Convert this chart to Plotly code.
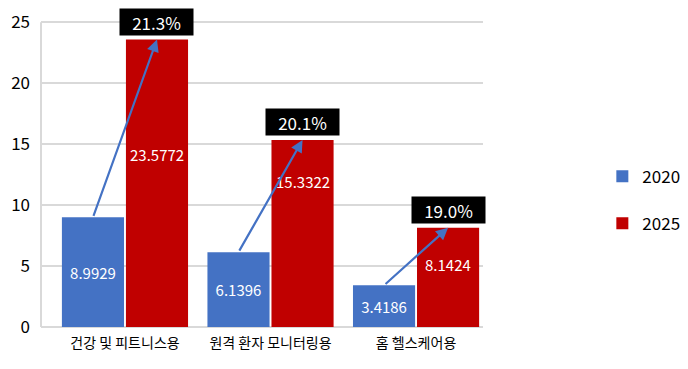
import plotly.graph_objects as go

categories = ["건강 및 피트니스용", "원격 환자 모니터링용", "홈 헬스케어용"]
series_names = ["2020", "2025"]
values_2020 = [8.9929, 6.1396, 3.4186]
values_2025 = [23.5772, 15.3322, 8.1424]
growth_labels = ["21.3%", "20.1%", "19.0%"]
y_ticks = [0, 5, 10, 15, 20, 25]

# layout-only details
red_label_frac = [0.60, 0.78, 0.63]
BLUE = "#4472C4"
RED = "#C00000"
FONT = "Noto Sans CJK KR"
off = 0.22

fig = go.Figure()
fig.add_trace(go.Bar(
    x=categories, y=values_2020, name=series_names[0], marker_color=BLUE,
    text=[f"{v:.4f}" for v in values_2020], textposition="inside",
    insidetextanchor="middle", textfont=dict(color="white", size=15, family=FONT),
    legendgroup="a", marker_line_width=0,
))
fig.add_trace(go.Bar(
    x=categories, y=values_2025, name=series_names[1], marker_color=RED,
    legendgroup="b", marker_line_width=0,
))

for i, (b, r, g, fr) in enumerate(zip(values_2020, values_2025, growth_labels, red_label_frac)):
    fig.add_annotation(x=i + off, y=r * fr, xref="x", yref="y", text=f"{r:.4f}",
                       showarrow=False, font=dict(color="white", size=15, family=FONT))
    fig.add_annotation(x=i + off, y=r, ax=i - off, ay=b, xref="x", yref="y",
                       axref="x", ayref="y", text="", showarrow=True,
                       arrowhead=2, arrowsize=1.1, arrowwidth=2.2, arrowcolor=BLUE)
    fig.add_annotation(x=i + off, y=r, xref="x", yref="y", yshift=18, text=g,
                       showarrow=False, bgcolor="black", width=71, height=24,
                       font=dict(color="white", size=17, family=FONT))

# page body has an 8px default margin; figure sized to fit inside it
fig.update_layout(
    width=672, height=353,
    margin=dict(l=33, r=197, t=2, b=34, autoexpand=False),
    paper_bgcolor="white", plot_bgcolor="white",
    barmode="group", bargap=0.12, bargroupgap=0.03,
    font=dict(family=FONT, color="black"),
    legend=dict(x=1.27, y=0.40, xanchor="left", yanchor="middle",
                font=dict(size=17, color="black"), tracegroupgap=22,
                itemsizing="constant"),
    showlegend=True,
)
fig.update_xaxes(range=[-0.577, 2.46], showline=False, tickfont=dict(size=14, color="black"),
                 ticks="", showgrid=False, automargin=False, ticklabelstandoff=6)
fig.update_yaxes(range=[0, 26], tickvals=y_ticks, showgrid=True, gridcolor="#d9d9d9",
                 gridwidth=2, zeroline=True, zerolinecolor="#d9d9d9", zerolinewidth=2,
                 showline=False, automargin=False,
                 tickfont=dict(size=17, color="black"), ticks="", ticklabelstandoff=10)
fig.add_shape(type="line", xref="paper", yref="y", x0=0, x1=0, y0=0, y1=25,
              line=dict(color="#d9d9d9", width=2))

fig.write_html("out.html")
